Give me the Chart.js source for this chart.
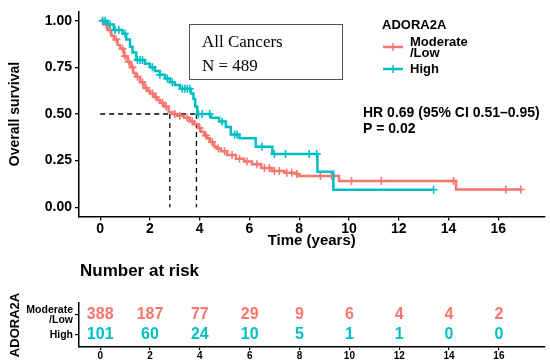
<!DOCTYPE html>
<html>
<head>
<meta charset="utf-8">
<script src="https://cdn.jsdelivr.net/npm/chart.js@4.4.0/dist/chart.umd.min.js"></script>
<style>
body { margin: 0; background: #fff; }
#wrap { position: relative; width: 550px; height: 361px; }
canvas { position: absolute; left: 0; }
</style>
</head>
<body>
<div id="wrap">
  <canvas id="km" width="550" height="250" style="top:0"></canvas>
  <canvas id="risk" width="550" height="111" style="top:250px"></canvas>
</div>
<script>
// --- data ---
const xTicks = [0, 2, 4, 6, 8, 10, 12, 14, 16];
const yTicks = [0, 0.25, 0.5, 0.75, 1];

const modLowTimes = [0, 0.15, 0.3, 0.45, 0.56, 0.7, 0.8, 0.96, 1.1, 1.23, 1.33, 1.43, 1.6, 1.77, 1.9, 2.0, 2.17, 2.3, 2.4, 2.57, 2.75, 2.9, 3.1, 3.37, 3.6, 3.78, 3.95, 4.05, 4.18, 4.3, 4.4, 4.58, 4.7, 4.85, 5.1, 5.45, 5.78, 6.1, 6.47, 6.9, 7.4, 7.87, 8.0, 9.6, 14.3, 16.9];
const modLowSurv  = [1.0, 0.98, 0.95, 0.92, 0.90, 0.87, 0.85, 0.81, 0.78, 0.75, 0.72, 0.70, 0.67, 0.64, 0.625, 0.61, 0.59, 0.575, 0.56, 0.54, 0.51, 0.50, 0.49, 0.48, 0.46, 0.445, 0.425, 0.405, 0.385, 0.37, 0.35, 0.325, 0.315, 0.30, 0.28, 0.26, 0.245, 0.23, 0.21, 0.195, 0.185, 0.178, 0.168, 0.141, 0.095, 0.095];
const modLowCensor = [0.1, 0.25, 0.4, 0.65, 0.9, 1.0, 1.15, 1.3, 1.5, 1.7, 1.85, 2.1, 2.25, 2.5, 2.65, 3.0, 3.2, 3.5, 3.7, 4.0, 4.25, 4.5, 4.75, 5.0, 5.3, 5.6, 5.9, 6.3, 6.6, 6.8, 7.0, 7.2, 7.5, 7.7, 7.9, 8.85, 9.3, 10.1, 11.3, 14.2, 16.3, 16.9];

const highTimes = [0, 0.3, 0.55, 0.9, 1.05, 1.2, 1.3, 1.45, 1.8, 2.0, 2.2, 2.4, 2.6, 2.8, 3.0, 3.2, 3.65, 3.75, 3.82, 3.9, 4.45, 4.78, 5.05, 5.25, 5.6, 6.25, 6.92, 8.73, 9.37, 13.4];
const highSurv  = [1.0, 0.98, 0.95, 0.93, 0.90, 0.86, 0.83, 0.79, 0.77, 0.75, 0.73, 0.71, 0.69, 0.67, 0.655, 0.635, 0.61, 0.58, 0.54, 0.50, 0.48, 0.46, 0.43, 0.39, 0.37, 0.325, 0.286, 0.19, 0.094, 0.094];
const highCensor = [0.1, 0.2, 0.4, 0.6, 0.75, 1.0, 1.5, 1.6, 1.7, 2.1, 2.4, 2.7, 2.9, 3.3, 3.4, 3.5, 3.6, 3.95, 4.1, 4.4, 4.9, 5.4, 5.5, 6.5, 7.0, 7.45, 8.4, 8.7, 13.4];

const medianModLow = 2.8;
const medianHigh = 3.87;

const riskGroups = ["Moderate/Low", "High"];
const riskTimes = [0, 2, 4, 6, 8, 10, 12, 14, 16];
const riskModLow = [388, 187, 77, 29, 9, 6, 4, 4, 2];
const riskHigh = [101, 60, 24, 10, 5, 1, 1, 0, 0];

const RED = "#F8766D", TEAL = "#00BFC4";
const SANS = "'Liberation Sans', Arial, sans-serif";

function survAt(times, surv, t) {
    let s = surv[0];
    for (let i = 0; i < times.length; i++) if (times[i] <= t) s = surv[i];
    return s;
}
const pts = (ts, ss) => ts.map((t, i) => ({x: t, y: ss[i]}));
const censorPts = (cs, ts, ss) => cs.map(t => ({x: t, y: survAt(ts, ss, t)}));

const fixW = w => s => { s.width = w; };
const fixH = h => s => { s.height = h; };

// annotations drawn on top of the survival plot
const kmExtras = {
    id: "kmExtras",
    afterDraw(chart) {
        const ctx = chart.ctx;
        ctx.save();
        // info box
        ctx.strokeStyle = "#555"; ctx.lineWidth = 1;
        ctx.strokeRect(189.5, 24.5, 153, 55);
        ctx.fillStyle = "#000";
        ctx.font = "17px 'Liberation Serif', serif";
        ctx.textBaseline = "middle"; ctx.textAlign = "left";
        ctx.fillText("All Cancers", 202, 43);
        ctx.fillText("N = 489", 202, 67);
        // legend
        ctx.font = "bold 13px " + SANS;
        ctx.fillText("ADORA2A", 382, 25);
        ctx.fillText("Moderate", 410, 42);
        ctx.fillText("/Low", 410, 53);
        ctx.fillText("High", 410, 69);
        [[RED, 47], [TEAL, 69]].forEach(([c, y]) => {
            ctx.strokeStyle = c; ctx.lineWidth = 2.5;
            ctx.beginPath(); ctx.moveTo(383, y); ctx.lineTo(403, y); ctx.stroke();
            ctx.lineWidth = 1.5;
            ctx.beginPath(); ctx.moveTo(393, y - 4); ctx.lineTo(393, y + 4); ctx.stroke();
        });
        // HR text
        ctx.fillStyle = "#000";
        ctx.font = "bold 14px " + SANS;
        ctx.fillText("HR 0.69 (95% CI 0.51\u20130.95)", 363, 113);
        ctx.fillText("P = 0.02", 363, 129);
        ctx.restore();
    }
};

const dash = {borderColor: "#000", borderWidth: 1.3, borderDash: [5, 4], pointRadius: 0, showLine: true, fill: false};

new Chart(document.getElementById("km"), {
    type: "scatter",
    data: {
        datasets: [
            {data: censorPts(highCensor, highTimes, highSurv), pointStyle: "cross", pointRadius: 4, borderColor: TEAL, borderWidth: 1.6},
            {data: pts(highTimes, highSurv), showLine: true, stepped: true, borderColor: TEAL, borderWidth: 2.5, pointRadius: 0},
            {data: censorPts(modLowCensor, modLowTimes, modLowSurv), pointStyle: "cross", pointRadius: 4, borderColor: RED, borderWidth: 1.6},
            {data: pts(modLowTimes, modLowSurv), showLine: true, stepped: true, borderColor: RED, borderWidth: 2.5, pointRadius: 0},
            Object.assign({data: [{x: 0, y: 0.5}, {x: medianHigh, y: 0.5}]}, dash),
            Object.assign({data: [{x: medianModLow, y: 0.5}, {x: medianModLow, y: 0}]}, dash),
            Object.assign({data: [{x: medianHigh, y: 0.5}, {x: medianHigh, y: 0}]}, dash)
        ]
    },
    options: {
        responsive: false, animation: false,
        layout: {padding: {top: 6.4, right: 5, left: 0, bottom: 0}},
        plugins: {legend: {display: false}, tooltip: {enabled: false}},
        scales: {
            x: {
                type: "linear", min: -0.85, max: 17.85,
                afterBuildTicks: s => { s.ticks = xTicks.map(v => ({value: v})); },
                afterFit: fixH(33.4),
                grid: {display: true, drawOnChartArea: false, tickLength: 4, color: "#000", lineWidth: 1.3},
                border: {display: true, color: "#000", width: 1.5},
                ticks: {color: "#000", font: {family: SANS, size: 14, weight: "bold"}, padding: 0, maxRotation: 0},
                title: {display: true, text: "Time (years)", color: "#000", font: {family: SANS, size: 15, weight: "bold"}, padding: {top: 0, bottom: 0}}
            },
            y: {
                min: -0.05, max: 1.05,
                afterBuildTicks: s => { s.ticks = yTicks.map(v => ({value: v})); },
                afterFit: fixW(79),
                grid: {display: true, drawOnChartArea: false, tickLength: 4, color: "#000", lineWidth: 1.3},
                border: {display: true, color: "#000", width: 1.5},
                ticks: {color: "#000", font: {family: SANS, size: 14, weight: "bold"}, padding: 3, callback: v => v.toFixed(2)},
                title: {display: true, text: "Overall survival", color: "#000", font: {family: SANS, size: 14, weight: "bold"}, padding: {top: 7, bottom: 0}}
            }
        }
    },
    plugins: [kmExtras]
});

// --- risk table ---
const riskText = {
    id: "riskText",
    afterDraw(chart) {
        const ctx = chart.ctx, xs = chart.scales.x, ys = chart.scales.y;
        ctx.save();
        ctx.textBaseline = "middle";
        ctx.fillStyle = "#000"; ctx.textAlign = "left";
        ctx.font = "bold 17px " + SANS;
        ctx.fillText("Number at risk", 80, 21);
        ctx.textAlign = "center";
        ctx.font = "bold 16px " + SANS;
        riskTimes.forEach((t, i) => {
            ctx.fillStyle = RED;
            ctx.fillText(String(riskModLow[i]), xs.getPixelForValue(t), ys.getPixelForValue(2));
            ctx.fillStyle = TEAL;
            ctx.fillText(String(riskHigh[i]), xs.getPixelForValue(t), ys.getPixelForValue(1));
        });
        ctx.restore();
    }
};

new Chart(document.getElementById("risk"), {
    type: "scatter",
    data: {datasets: [{data: riskTimes.map(t => ({x: t, y: 2})), pointRadius: 0}]},
    options: {
        responsive: false, animation: false,
        layout: {padding: {top: 53, right: 5, left: 0, bottom: 0}},
        plugins: {legend: {display: false}, tooltip: {enabled: false}},
        scales: {
            x: {
                type: "linear", min: -0.85, max: 17.85,
                afterBuildTicks: s => { s.ticks = xTicks.map(v => ({value: v})); },
                afterFit: fixH(14),
                grid: {display: true, drawOnChartArea: false, tickLength: 3, color: "#000", lineWidth: 1.2},
                border: {display: true, color: "#000", width: 1.5},
                ticks: {color: "#000", font: {family: SANS, size: 10, weight: "bold"}, padding: 0, maxRotation: 0}
            },
            y: {
                min: 0.4, max: 2.6,
                afterBuildTicks: s => { s.ticks = [{value: 1}, {value: 2}]; },
                afterFit: fixW(79),
                grid: {display: true, drawOnChartArea: false, tickLength: 4, color: "#000", lineWidth: 1.2},
                border: {display: true, color: "#000", width: 1.5},
                ticks: {color: "#000", font: {family: SANS, size: 10.5, weight: "bold", lineHeight: 1.0}, padding: 2,
                        callback: v => v === 2 ? ["Moderate", "/Low"] : riskGroups[1]},
                title: {display: true, text: "ADORA2A", color: "#000", font: {family: SANS, size: 13, weight: "bold"}, padding: {top: 8, bottom: 0}}
            }
        }
    },
    plugins: [riskText]
});
</script>
</body>
</html>
